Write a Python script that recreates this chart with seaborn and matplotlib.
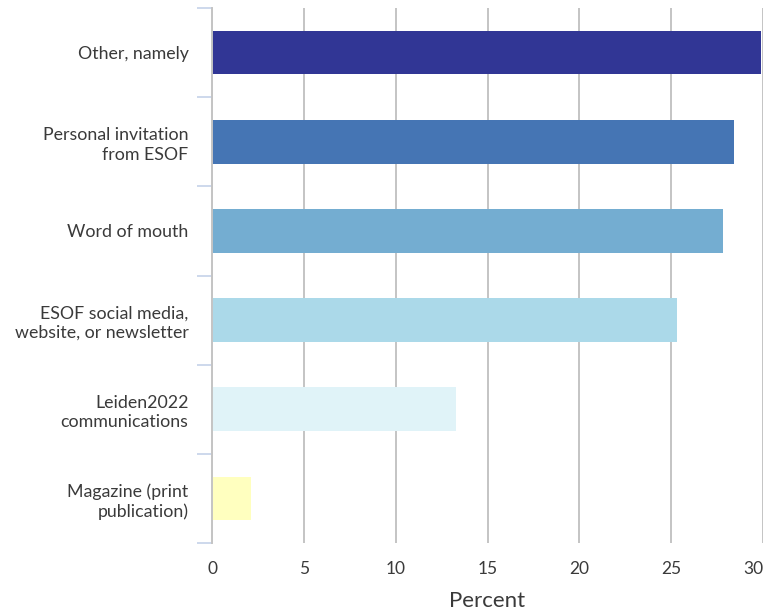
import matplotlib
matplotlib.use("Agg")
import matplotlib.pyplot as plt
import seaborn as sns
import pandas as pd
import numpy as np

categories = [
    "Other, namely",
    "Personal invitation\nfrom ESOF",
    "Word of mouth",
    "ESOF social media,\nwebsite, or newsletter",
    "Leiden2022\ncommunications",
    "Magazine (print\npublication)",
]
percent = [29.9, 28.4, 27.8, 25.3, 13.3, 2.1]
colors = ["#313695", "#4575b4", "#74add1", "#abd9e9", "#e0f3f8", "#ffffbf"]
x_ticks = [0, 5, 10, 15, 20, 25, 30]

df = pd.DataFrame({"source": categories, "percent": percent})

sns.set_theme(style="white")
plt.rcParams["font.family"] = ["Lato", "DejaVu Sans"]

fig = plt.figure(figsize=(7.65, 6.13), dpi=100)
ax = fig.add_axes([212 / 765, 1 - 543 / 613, (763 - 212) / 765, (543 - 8) / 613])

sns.barplot(data=df, x="percent", y="source", hue="source", palette=colors,
            order=categories, hue_order=categories, width=0.49,
            legend=False, ax=ax, saturation=1, linewidth=0)

ax.set_xlim(0, 30)
ax.set_ylim(len(categories) - 0.5, -0.5)
ax.set_xticks(x_ticks)
ax.set_xticklabels([str(t) for t in x_ticks])
# keep the last tick label inside the figure
ax.get_xticklabels()[-1].set_horizontalalignment("right")
ax.xaxis.grid(True, color="#c4c4c4", linewidth=1.4)
ax.set_axisbelow(True)

for side in ["top", "right", "bottom"]:
    ax.spines[side].set_visible(False)
ax.spines["left"].set_color("#c4c4c4")
ax.spines["left"].set_linewidth(1.4)

# category boundaries as minor ticks on the left
ax.set_yticks(np.arange(-0.5, len(categories)), minor=True)
ax.tick_params(axis="y", which="minor", length=11, width=1.4, color="#cdd8ec", left=True)
ax.tick_params(axis="y", which="major", length=0, pad=17, labelsize=12.8, labelcolor="#3a3a3a")
ax.tick_params(axis="x", which="major", length=0, pad=13, labelsize=12.5, labelcolor="#3a3a3a")
for lbl in ax.get_yticklabels():
    lbl.set_linespacing(1.25)

ax.set_ylabel("")
ax.set_xlabel("Percent", fontsize=16, color="#3a3a3a", labelpad=10)

fig.savefig("out.png", dpi=100)
